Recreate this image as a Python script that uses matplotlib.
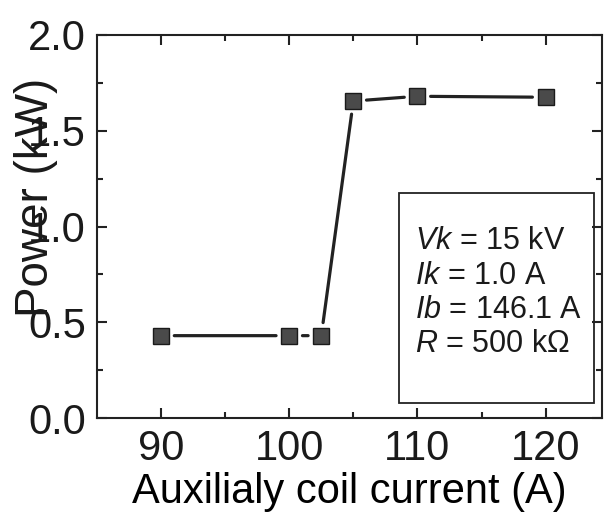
import matplotlib
matplotlib.use("Agg")
import matplotlib.pyplot as plt
from matplotlib.patches import Rectangle

current = [90, 100, 102.5, 105, 110, 120]
power = [0.43, 0.43, 0.43, 1.655, 1.68, 1.675]
xticks = [90, 100, 110, 120]
yticks = [0.0, 0.5, 1.0, 1.5, 2.0]
params = [r"$\mathit{Vk}$ = 15 kV", r"$\mathit{Ik}$ = 1.0 A",
          r"$\mathit{Ib}$ = 146.1 A", r"$\mathit{R}$ = 500 k$\Omega$"]

plt.rcParams['font.family'] = ['Liberation Sans', 'DejaVu Sans']
plt.rcParams['mathtext.fontset'] = 'custom'
plt.rcParams['mathtext.rm'] = 'Liberation Sans'
plt.rcParams['mathtext.it'] = 'Liberation Sans:italic'
plt.rcParams['text.color'] = '#1a1a1a'

fig = plt.figure(figsize=(6.04, 5.15), dpi=100)
ax = fig.add_axes([97/604, 97/515, 505/604, 383/515])
ax.set_xlim(85, 124.4)
ax.set_ylim(0, 2.0)

# connecting segments with gaps
for i in range(len(current) - 1):
    ax.annotate("", xy=(current[i+1], power[i+1]), xytext=(current[i], power[i]),
                arrowprops=dict(arrowstyle='-', color='#222222', lw=2.3,
                                shrinkA=9.5, shrinkB=9.5))
ax.plot(current, power, linestyle='none', marker='s', markersize=11.5,
        markerfacecolor='#4a4a4a', markeredgecolor='#1a1a1a', markeredgewidth=1.0, zorder=3)

ax.set_xticks(xticks)
ax.set_yticks(yticks)
ax.set_yticklabels([f"{v:.1f}" for v in yticks])
ax.set_xticks([95, 105, 115], minor=True)
ax.set_yticks([0.25, 0.75, 1.25, 1.75], minor=True)
ax.tick_params(which='both', direction='in', top=True, right=True, width=1.5,
               color='#222222', labelcolor='#1a1a1a')
ax.tick_params(which='major', length=7, labelsize=30, pad=8)
ax.tick_params(which='minor', length=4)
for s in ax.spines.values():
    s.set_linewidth(1.5)
    s.set_color('#222222')

ax.set_xlabel("Auxilialy coil current (A)", fontsize=30, labelpad=2)
fig.text(36/604, 1 - 197/515, "Power (kW)", rotation=90, fontsize=33,
         ha='center', va='center')

# parameter box
box = Rectangle((399/604, 1 - 403/515), 195/604, 210/515, transform=fig.transFigure,
                fill=False, edgecolor='#222222', lw=1.3)
fig.add_artist(box)
ys = [241, 276, 310, 344]
for t, y in zip(params, ys):
    fig.text(415/604, 1 - y/515, t, fontsize=22, ha='left', va='center')

fig.savefig("out.png", dpi=100)
